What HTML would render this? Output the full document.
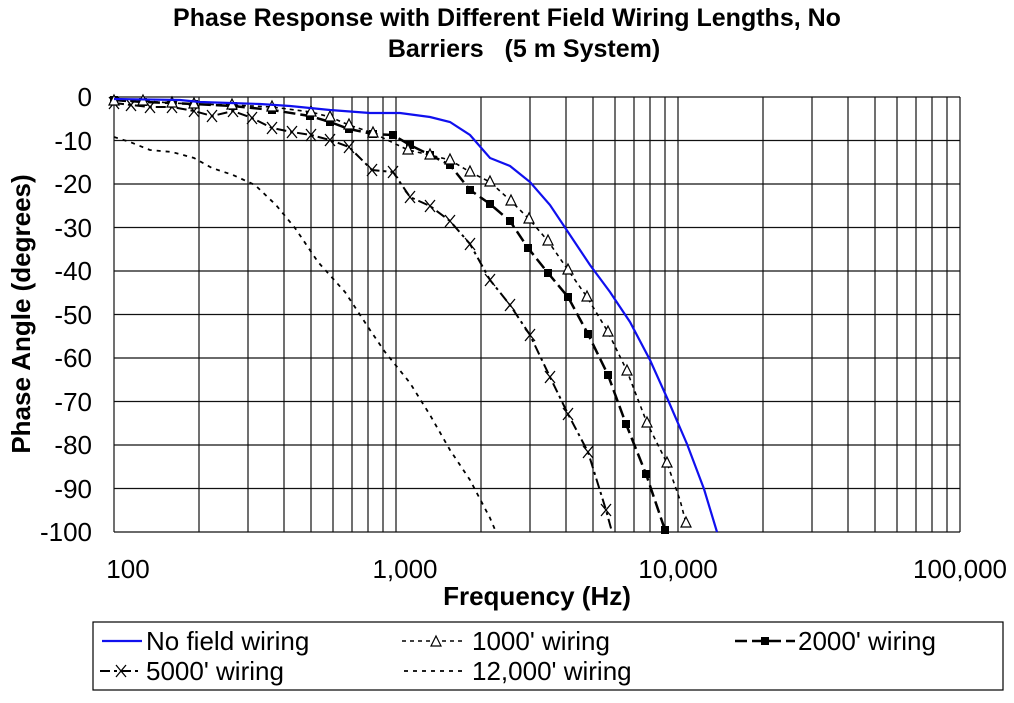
<!DOCTYPE html>
<html><head><style>
body{margin:0;background:#fff;}
svg text{font-family:"Liberation Sans",Arial,sans-serif;}
</style></head><body>
<svg width="1014" height="698" xmlns="http://www.w3.org/2000/svg">
<defs>
<path id="tri" d="M0,-6 L5,4 L-5,4 Z" fill="#fff" stroke="#000" stroke-width="1.2"/>
<rect id="sq" x="-4" y="-4" width="8" height="8" fill="#000"/>
<path id="xm" d="M-5,-6 L5,6 M5,-6 L-5,6" stroke="#000" stroke-width="1.3" fill="none"/>
</defs>
<text x="507" y="26" font-size="25" font-weight="bold" text-anchor="middle">Phase Response with Different Field Wiring Lengths, No</text>
<text x="524" y="57" font-size="25" font-weight="bold" text-anchor="middle" xml:space="preserve">Barriers   (5 m System)</text>
<g id="grid" stroke="#111" stroke-width="1.2" fill="none">
<path d="M114,97H960M114,140.5H960M114,184H960M114,227.5H960M114,271H960M114,314.5H960M114,358H960M114,401.5H960M114,445H960M114,488.5H960M114,532H960"/>
<path d="M114,97V532M396,97V532M678,97V532M960,97V532"/>
<path d="M199,97V532M248,97V532M284,97V532M311,97V532M333,97V532M352,97V532M368,97V532M383,97V532
M481,97V532M530,97V532M566,97V532M593,97V532M615,97V532M634,97V532M650,97V532M665,97V532
M763,97V532M812,97V532M848,97V532M875,97V532M897,97V532M916,97V532M932,97V532M947,97V532"/>
</g>
<g font-size="26" text-anchor="end">
<text x="92" y="106">0</text><text x="92" y="150">-10</text><text x="92" y="193">-20</text><text x="92" y="237">-30</text><text x="92" y="280">-40</text><text x="92" y="324">-50</text><text x="92" y="367">-60</text><text x="92" y="411">-70</text><text x="92" y="454">-80</text><text x="92" y="498">-90</text><text x="92" y="541">-100</text>
</g>
<g font-size="26" text-anchor="middle">
<text x="128" y="578">100</text><text x="405" y="578">1,000</text><text x="678" y="578">10,000</text><text x="960" y="578">100,000</text>
</g>
<text x="537" y="605" font-size="26" font-weight="bold" text-anchor="middle">Frequency (Hz)</text>
<text transform="translate(30,314) rotate(-90)" font-size="26" font-weight="bold" text-anchor="middle">Phase Angle (degrees)</text>
<!-- 12000 -->
<polyline fill="none" stroke="#000" stroke-width="1.8" stroke-dasharray="4,5" points="114,137 130,142 150,150 172,152 194,158 212,168 233,175 255,185 276,205 295,228 318,262 345,292 370,330 385,352 410,383 430,415 450,450 470,480 490,518 496,532"/>
<!-- 5000 -->
<polyline fill="none" stroke="#000" stroke-width="2" stroke-dasharray="10,4,3,4" points="114,103 131,105 150,107 172,107 194,111 212,116 233,111 252,118 272,128 292,132 311,135 330,140 349,147 372,170 393,172 410,197 430,206 450,221 470,244 490,280 510,305 530,335 550,377 568,414 588,452 606,510 612,532"/>
<g><use href="#xm" x="114" y="103"/><use href="#xm" x="131" y="105"/><use href="#xm" x="150" y="107"/><use href="#xm" x="172" y="107"/><use href="#xm" x="194" y="111"/><use href="#xm" x="212" y="116"/><use href="#xm" x="233" y="111"/><use href="#xm" x="252" y="118"/><use href="#xm" x="272" y="128"/><use href="#xm" x="292" y="132"/><use href="#xm" x="311" y="135"/><use href="#xm" x="330" y="140"/><use href="#xm" x="349" y="147"/><use href="#xm" x="372" y="170"/><use href="#xm" x="393" y="172"/><use href="#xm" x="410" y="197"/><use href="#xm" x="430" y="206"/><use href="#xm" x="450" y="221"/><use href="#xm" x="470" y="244"/><use href="#xm" x="490" y="280"/><use href="#xm" x="510" y="305"/><use href="#xm" x="530" y="335"/><use href="#xm" x="550" y="377"/><use href="#xm" x="568" y="414"/><use href="#xm" x="588" y="452"/><use href="#xm" x="606" y="510"/></g>
<!-- 2000 -->
<polyline fill="none" stroke="#000" stroke-width="2.5" stroke-dasharray="12,5" points="114,100 143,102 172,103 194,104 233,106 272,110 310,116 330,122 349,129 373,134 393,135 410,145 430,155 450,165 470,190 490,204 510,221 528,248 548,273 568,297 588,334 608,375 626,424 646,474 665,530 667,532"/>
<g><use href="#sq" x="114" y="100"/><use href="#sq" x="143" y="102"/><use href="#sq" x="172" y="103"/><use href="#sq" x="194" y="104"/><use href="#sq" x="233" y="106"/><use href="#sq" x="272" y="110"/><use href="#sq" x="310" y="116"/><use href="#sq" x="330" y="122"/><use href="#sq" x="349" y="129"/><use href="#sq" x="373" y="134"/><use href="#sq" x="393" y="135"/><use href="#sq" x="410" y="145"/><use href="#sq" x="430" y="155"/><use href="#sq" x="450" y="165"/><use href="#sq" x="470" y="190"/><use href="#sq" x="490" y="204"/><use href="#sq" x="510" y="221"/><use href="#sq" x="528" y="248"/><use href="#sq" x="548" y="273"/><use href="#sq" x="568" y="297"/><use href="#sq" x="588" y="334"/><use href="#sq" x="608" y="375"/><use href="#sq" x="626" y="424"/><use href="#sq" x="646" y="474"/><use href="#sq" x="665" y="530"/></g>
<!-- 1000 -->
<polyline fill="none" stroke="#000" stroke-width="1.6" stroke-dasharray="4,4" points="114,101 143,101 172,103 194,104 232,105 272,107 311,112 330,117 349,125 373,133 408,150 430,155 450,160 470,172 490,182 511,201 529,219 548,241 568,270 587,297 608,332 627,371 647,423 667,463 680,500 686,523"/>
<g><use href="#tri" x="114" y="101"/><use href="#tri" x="143" y="101"/><use href="#tri" x="172" y="103"/><use href="#tri" x="194" y="104"/><use href="#tri" x="232" y="105"/><use href="#tri" x="272" y="107"/><use href="#tri" x="311" y="112"/><use href="#tri" x="330" y="117"/><use href="#tri" x="349" y="125"/><use href="#tri" x="373" y="133"/><use href="#tri" x="408" y="150"/><use href="#tri" x="430" y="155"/><use href="#tri" x="450" y="160"/><use href="#tri" x="470" y="172"/><use href="#tri" x="490" y="182"/><use href="#tri" x="511" y="201"/><use href="#tri" x="529" y="219"/><use href="#tri" x="548" y="241"/><use href="#tri" x="568" y="270"/><use href="#tri" x="587" y="297"/><use href="#tri" x="608" y="332"/><use href="#tri" x="627" y="371"/><use href="#tri" x="647" y="423"/><use href="#tri" x="667" y="463"/><use href="#tri" x="686" y="523"/></g>
<!-- blue -->
<polyline fill="none" stroke="#1010ee" stroke-width="2.2" points="114,99 180,100 200,102 230,103 260,104 290,106 330,110 370,113 400,113 430,117 450,122 470,135 490,158 510,166 530,182 550,205 570,235 590,265 610,292 630,322 650,360 668,400 687,444 704,489 717,532"/>
<!-- legend -->
<rect x="93" y="622" width="910" height="68" fill="#fff" stroke="#000" stroke-width="1.2"/>
<g font-size="26">
<line x1="102" y1="641" x2="142" y2="641" stroke="#1010ee" stroke-width="2.2"/>
<text x="146" y="650">No field wiring</text>
<line x1="402" y1="641" x2="466" y2="641" stroke="#000" stroke-width="1.6" stroke-dasharray="4,4"/>
<use href="#tri" x="436" y="642"/>
<text x="472" y="650">1000' wiring</text>
<line x1="735" y1="641" x2="795" y2="641" stroke="#000" stroke-width="2.5" stroke-dasharray="12,5"/>
<use href="#sq" x="765" y="641"/>
<text x="798" y="650">2000' wiring</text>
<line x1="100" y1="671" x2="142" y2="671" stroke="#000" stroke-width="2" stroke-dasharray="10,4,3,4"/>
<use href="#xm" x="121" y="671"/>
<text x="146" y="680">5000' wiring</text>
<line x1="404" y1="671" x2="466" y2="671" stroke="#000" stroke-width="1.8" stroke-dasharray="4,5"/>
<text x="472" y="680">12,000' wiring</text>
</g>
</svg>
</body></html>
